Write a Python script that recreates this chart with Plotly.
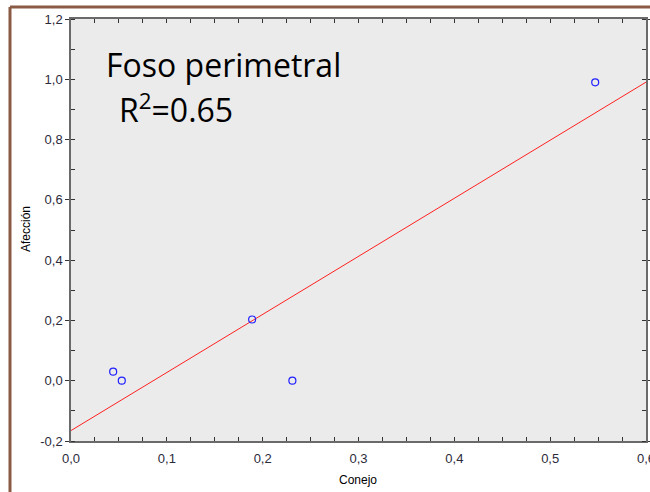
import numpy as np
import plotly.graph_objects as go

conejo = [0.044, 0.053, 0.189, 0.231, 0.547]
afeccion = [0.03, 0.0, 0.203, 0.0, 0.99]
x_tickvals = [0.0, 0.1, 0.2, 0.3, 0.4, 0.5, 0.6]
x_ticktext = ["0,0", "0,1", "0,2", "0,3", "0,4", "0,5", "0,6"]
y_tickvals = [-0.2, 0.0, 0.2, 0.4, 0.6, 0.8, 1.0, 1.2]
y_ticktext = ["-0,2", "0,0", "0,2", "0,4", "0,6", "0,8", "1,0", "1,2"]
title_text = "Foso perimetral"
r2_text = "R<sup>2</sup>=0.65"
x_title = "Conejo"
y_title = "Afección"

slope, intercept = np.polyfit(conejo, afeccion, 1)
xl = [0.0, 0.6]
yl = [intercept + slope * v for v in xl]

fig = go.Figure()
fig.add_trace(go.Scatter(x=xl, y=yl, mode="lines",
                         line=dict(color="#ff2020", width=1), hoverinfo="skip"))
fig.add_trace(go.Scatter(x=conejo, y=afeccion, mode="markers",
                         marker=dict(symbol="circle-open", size=7, color="#2020ff",
                                     line=dict(width=1.2, color="#2020ff"))))

axis_common = dict(showgrid=False, zeroline=False, showline=True, linecolor="#6a6a6a",
                   linewidth=1.5, mirror="ticks", tickcolor="#333333", automargin=False,
                   ticklabeloverflow="allow",
                   tickfont=dict(family="Liberation Sans, Arial", size=13, color="#2b2b3b"))

fig.update_xaxes(range=[0, 0.6], tickmode="array", tickvals=x_tickvals, ticktext=x_ticktext,
                 ticks="inside", ticklen=4, ticklabelstandoff=5,
                 minor=dict(dtick=0.025, tick0=0, ticks="inside", ticklen=4, tickcolor="#333333"),
                 **axis_common)
fig.update_yaxes(range=[-0.2, 1.2], tickmode="array", tickvals=y_tickvals, ticktext=y_ticktext,
                 ticks="outside", ticklen=4,
                 minor=dict(dtick=0.1, tick0=0, ticks="inside", ticklen=4, tickcolor="#333333"),
                 **axis_common)

fig.add_annotation(xref="paper", yref="paper", x=(358 - 71) / 575, y=(441 - 480) / 422,
                   text=x_title, showarrow=False, xanchor="center", yanchor="middle",
                   font=dict(family="Liberation Sans, Arial", size=12, color="#000"))
fig.add_annotation(xref="paper", yref="paper", x=(26 - 71) / 575, y=(441 - 229) / 422,
                   text=y_title, showarrow=False, xanchor="center", yanchor="middle",
                   textangle=-90,
                   font=dict(family="Liberation Sans, Arial", size=12, color="#000"))

fig.add_annotation(xref="paper", yref="paper", x=(104 - 71) / 575, y=(441 - 64) / 422,
                   text=title_text, showarrow=False, xanchor="left", yanchor="middle",
                   font=dict(family="Open Sans", size=32, color="#000"))
fig.add_annotation(xref="paper", yref="paper", x=(117 - 71) / 575, y=(441 - 108) / 422,
                   text=r2_text, showarrow=False, xanchor="left", yanchor="middle",
                   font=dict(family="Open Sans", size=32, color="#000"))

brown = "#8b5a45"
fig.add_shape(type="line", xref="paper", yref="paper",
              x0=(10 - 71) / 575, x1=(660 - 71) / 575, y0=(441 - 7) / 422, y1=(441 - 7) / 422,
              line=dict(color=brown, width=3))
fig.add_shape(type="line", xref="paper", yref="paper",
              x0=(10 - 71) / 575, x1=(10 - 71) / 575, y0=(441 - 7) / 422, y1=(441 - 500) / 422,
              line=dict(color=brown, width=3))

fig.update_layout(width=650, height=492, margin=dict(l=71, r=4, t=19, b=51),
                  paper_bgcolor="white", plot_bgcolor="#ebebeb", showlegend=False)
fig.write_html("out.html", config={"displayModeBar": False},
               post_script="document.body.style.margin='0';document.body.style.overflow='hidden';")
